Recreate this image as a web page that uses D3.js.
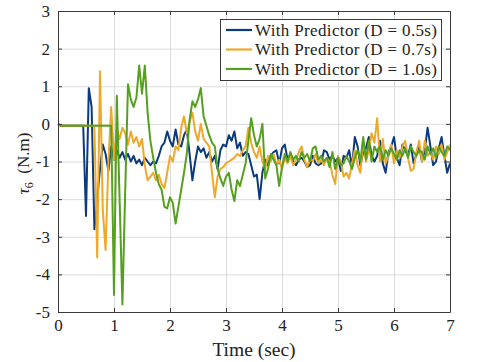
<!DOCTYPE html>
<html>
<head>
<meta charset="utf-8">
<script src="https://cdn.jsdelivr.net/npm/d3@7"></script>
<style>
  html, body { margin: 0; padding: 0; background: #fff; }
  svg { display: block; }
</style>
</head>
<body>
<svg id="chart" width="484" height="362"></svg>
<script>
const seriesNames = ["With Predictor (D = 0.5s)", "With Predictor (D = 0.7s)", "With Predictor (D = 1.0s)"];
const seriesColors = ["#0b3b7c", "#eea82a", "#55a11f"];
const xTicks = [0, 1, 2, 3, 4, 5, 6, 7];
const yTicks = [3, 2, 1, 0, -1, -2, -3, -4, -5];
const dt = 0.05;

const valuesD05 = [
  0, -0.05,-0.05,-0.05,-0.05,-0.05,-0.05,-0.05,-0.05,-0.05,
  -2.45, 0.95, 0.45, -2.8, -2.0, -1.2, -0.55, -0.8, -1.25, -0.6,
  -0.95, -0.7, -0.9, -0.75, -0.95, -0.8, -1.0, -0.85, -1.05, -0.95,
  -1.1, -0.9, -1.0, -1.1, -1.0, -1.05, -0.85, -0.6, -0.5, -0.2,
  -0.45, -0.6, -0.15, -0.55, -0.6, -0.3, -0.15, -0.8, -1.5, -1.0,
  -0.6, -0.75, -0.65, -0.9, -0.75, -1.0, -0.85, -1.2, -0.7, -0.55,
  -0.6, -0.3, -0.45, -0.2, -0.65, -0.5, -0.85, -0.75, -0.8, -1.1,
  -1.4, -1.35, -2.0, -1.3, -0.95, -1.1, -0.85, -0.75, -0.7, -1.05,
  -0.65, -0.55, -0.95, -0.8, -1.0, -1.1, -0.95, -0.9, -1.0, -1.15,
  -1.1, -0.85, -1.05, -1.1, -1.05, -0.7, -0.75, -0.95, -0.85, -1.0,
  -0.9, -1.25, -0.85, -0.9, -0.7, -1.15, -0.35, -0.6, -1.1, -0.75,
  -0.65, -0.35, -0.85, -1.0, -0.85, -0.45, -1.05, -1.3, -0.75, -0.6,
  -0.35, -0.9, -1.1, -0.55, -0.7, -0.85, -0.55, -1.05, -0.8, -0.6,
  -1.0, -0.7, -0.1, -0.6, -1.1, -1.0, -0.65, -0.35, -0.85, -1.3,
  -1.05
];
const valuesD07 = [
  0, -0.05,-0.05,-0.05,-0.05,-0.05,-0.05,-0.05,-0.05,-0.05,
  -0.05,-0.05,-0.05,-0.05, -3.55, 1.4, -2.3, -3.35, -1.0, 0.45,
  -0.95, -0.15, -0.4, -0.1, -0.25, -0.55, -0.2, -0.5, -0.35, -0.6,
  -0.4, -1.1, -1.5, -1.4, -1.3, -1.5, -1.35, -1.6, -1.7, -1.3,
  -0.85, -1.0, -0.6, -0.7, -0.1, 0.2, -0.25, 0.05, 0.3, -0.2,
  -0.45, 0.0, -0.4, -0.5, -0.6, -1.3, -1.95, -1.4, -1.2, -1.15,
  -1.05, -1.0, -0.95, -0.9, -0.8, -0.85, -0.7, -0.6, -0.1, -0.5,
  -0.75, -0.9, -0.6, -1.0, -1.2, -0.85, -1.0, -0.8, -1.1, -0.95,
  -1.2, -0.9, -1.05, -0.85, -1.1, -0.95, -0.75, -0.6, -0.95, -1.15,
  -0.9, -1.0, -0.8, -1.05, -0.95, -1.1, -0.9, -1.0, -1.35, -1.6,
  -0.85, -1.0, -1.4, -1.3, -1.45, -1.05, -0.7, -1.1, -1.3, -0.45,
  -1.0, -0.7, -0.25, -0.5, 0.15, -1.0, -0.4, -1.05, -0.85, -0.55,
  -1.05, -0.7, -0.9, -0.6, -0.45, -0.9, -1.25, -1.2, -0.75, -0.45,
  -1.0, -0.45, -0.85, -0.75, -0.95, -0.6, -0.8, -0.55, -0.95, -0.75,
  -0.55
];
const valuesD10 = [
  0, -0.05,-0.05,-0.05,-0.05,-0.05,-0.05,-0.05,-0.05,-0.05,
  -0.05,-0.05,-0.05,-0.05,-0.05,-0.05,-0.05,-0.05,-0.05,-0.05,
  -4.55, 0.75, -2.0, -4.8, -1.8, 1.05, 0.65, 0.45, 0.7, 1.55,
  0.8, 1.55, 0.3, -0.45, -0.9, -1.3, -1.6, -1.75, -2.2, -2.25,
  -1.95, -2.1, -2.65, -2.2, -1.75, -1.3, -0.8, 0.1, 0.6, 0.45,
  0.65, 0.95, 0.2, -0.05, -0.3, -0.5, -0.6, -1.2, -1.45, -1.65,
  -1.4, -1.3, -1.75, -2.05, -1.5, -1.65, -1.35, -1.05, -0.45, 0.15,
  -0.3, -0.6, -0.4, 0.0, -1.45, -1.2, -0.8, -0.95, -1.1, -1.65,
  -1.15, -0.8, -1.0, -0.75, -0.95, -0.85, -1.0, -0.75, -0.9, -0.8,
  -1.0, -0.65, -0.6, -0.95, -0.85, -1.0, -0.9, -1.15, -0.75, -1.2,
  -0.9, -1.1, -1.05, -0.85, -1.0, -1.2, -0.9, -0.7, -1.0, -0.35,
  -0.95, -0.45, -1.0, -0.6, -0.75, -0.6, -0.95, -0.7, -0.85, -0.65,
  -0.8, -0.95, -0.7, -0.85, -0.65, -0.9, -0.6, -0.75, -0.85, -0.7,
  -0.75, -0.95, -0.6, -0.8, -0.65, -0.9, -0.6, -0.75, -0.85, -0.6,
  -0.7
];
const allSeries = [valuesD05, valuesD07, valuesD10];

// ---- layout ----
const FONT = "'Liberation Serif', 'DejaVu Serif', serif";
const svg = d3.select("#chart");
const margin = { left: 58, right: 34, top: 11, bottom: 50 };
const W = 484, H = 362;
const x = d3.scaleLinear().domain([0, 7]).range([margin.left, W - margin.right]);
const y = d3.scaleLinear().domain([-5, 3]).range([H - margin.bottom, margin.top]);

svg.append("rect").attr("x", 0).attr("y", 0).attr("width", W).attr("height", H).attr("fill", "#fff");

// grid
svg.append("g")
  .attr("transform", `translate(0,${y(-5)})`)
  .call(d3.axisBottom(x).tickValues(xTicks).tickSize(-(y(-5) - y(3))).tickFormat(""))
  .call(g => g.select(".domain").remove())
  .call(g => g.selectAll("line").attr("stroke", "#dcdcdc").attr("stroke-width", 1));
svg.append("g")
  .attr("transform", `translate(${x(0)},0)`)
  .call(d3.axisLeft(y).tickValues(yTicks).tickSize(-(x(7) - x(0))).tickFormat(""))
  .call(g => g.select(".domain").remove())
  .call(g => g.selectAll("line").attr("stroke", "#dcdcdc").attr("stroke-width", 1));

// lines
const line = d3.line().x((d, i) => x(i * dt)).y(d => y(d));
allSeries.forEach((vals, k) => {
  svg.append("path")
    .datum(vals)
    .attr("fill", "none")
    .attr("stroke", seriesColors[k])
    .attr("stroke-width", 2)
    .attr("stroke-linejoin", "round")
    .attr("d", line);
});

// axes with inward ticks
const tickLen = 4;
const axStyle = g => {
  g.attr("font-family", FONT).attr("font-size", 17);
  g.select(".domain").attr("stroke", "#3a3a3a");
  g.selectAll(".tick line").attr("stroke", "#3a3a3a");
  g.selectAll("text").attr("fill", "#222");
};
svg.append("g")
  .attr("transform", `translate(0,${y(-5)})`)
  .call(d3.axisBottom(x).tickValues(xTicks).tickSizeInner(-tickLen).tickSizeOuter(0).tickPadding(7).tickFormat(d3.format("d")))
  .call(axStyle);
svg.append("g")
  .attr("transform", `translate(0,${y(3)})`)
  .call(d3.axisTop(x).tickValues(xTicks).tickSizeInner(-tickLen).tickSizeOuter(0).tickFormat(""))
  .call(axStyle);
svg.append("g")
  .attr("transform", `translate(${x(0)},0)`)
  .call(d3.axisLeft(y).tickValues(yTicks).tickSizeInner(-tickLen).tickSizeOuter(0).tickPadding(8).tickFormat(d => d < 0 ? "-" + Math.abs(d) : String(d)))
  .call(axStyle);
svg.append("g")
  .attr("transform", `translate(${x(7)},0)`)
  .call(d3.axisRight(y).tickValues(yTicks).tickSizeInner(-tickLen).tickSizeOuter(0).tickFormat(""))
  .call(axStyle);

// axis labels
svg.append("text")
  .attr("x", (x(0) + x(7)) / 2)
  .attr("y", 356)
  .attr("text-anchor", "middle")
  .attr("font-family", FONT)
  .attr("font-size", 19.5)
  .attr("fill", "#222")
  .text("Time (sec)");

const yl = svg.append("text")
  .attr("transform", `translate(29,${(y(3) + y(-5)) / 2 + 2}) rotate(-90)`)
  .attr("text-anchor", "middle")
  .attr("font-family", FONT)
  .attr("fill", "#222")
  .attr("font-size", 17);
yl.append("tspan").attr("font-style", "italic").text("τ");
yl.append("tspan").attr("font-size", 12).attr("dy", 4).text("6");
yl.append("tspan").attr("dy", -4).text("\u2002(N.m)");

// legend
const lg = svg.append("g");
lg.append("rect")
  .attr("x", 220.5).attr("y", 19.5).attr("width", 221).attr("height", 61)
  .attr("fill", "#fff").attr("stroke", "#3a3a3a").attr("stroke-width", 1);
seriesNames.forEach((name, k) => {
  const cy = 30 + k * 19.5;
  lg.append("line")
    .attr("x1", 226).attr("x2", 252).attr("y1", cy).attr("y2", cy)
    .attr("stroke", seriesColors[k]).attr("stroke-width", 2.2);
  lg.append("text")
    .attr("x", 255).attr("y", cy + 5.5)
    .attr("font-family", FONT)
    .attr("font-size", 17)
    .attr("fill", "#222")
    .attr("textLength", 182)
    .attr("lengthAdjust", "spacing")
    .text(name);
});
</script>
</body>
</html>
